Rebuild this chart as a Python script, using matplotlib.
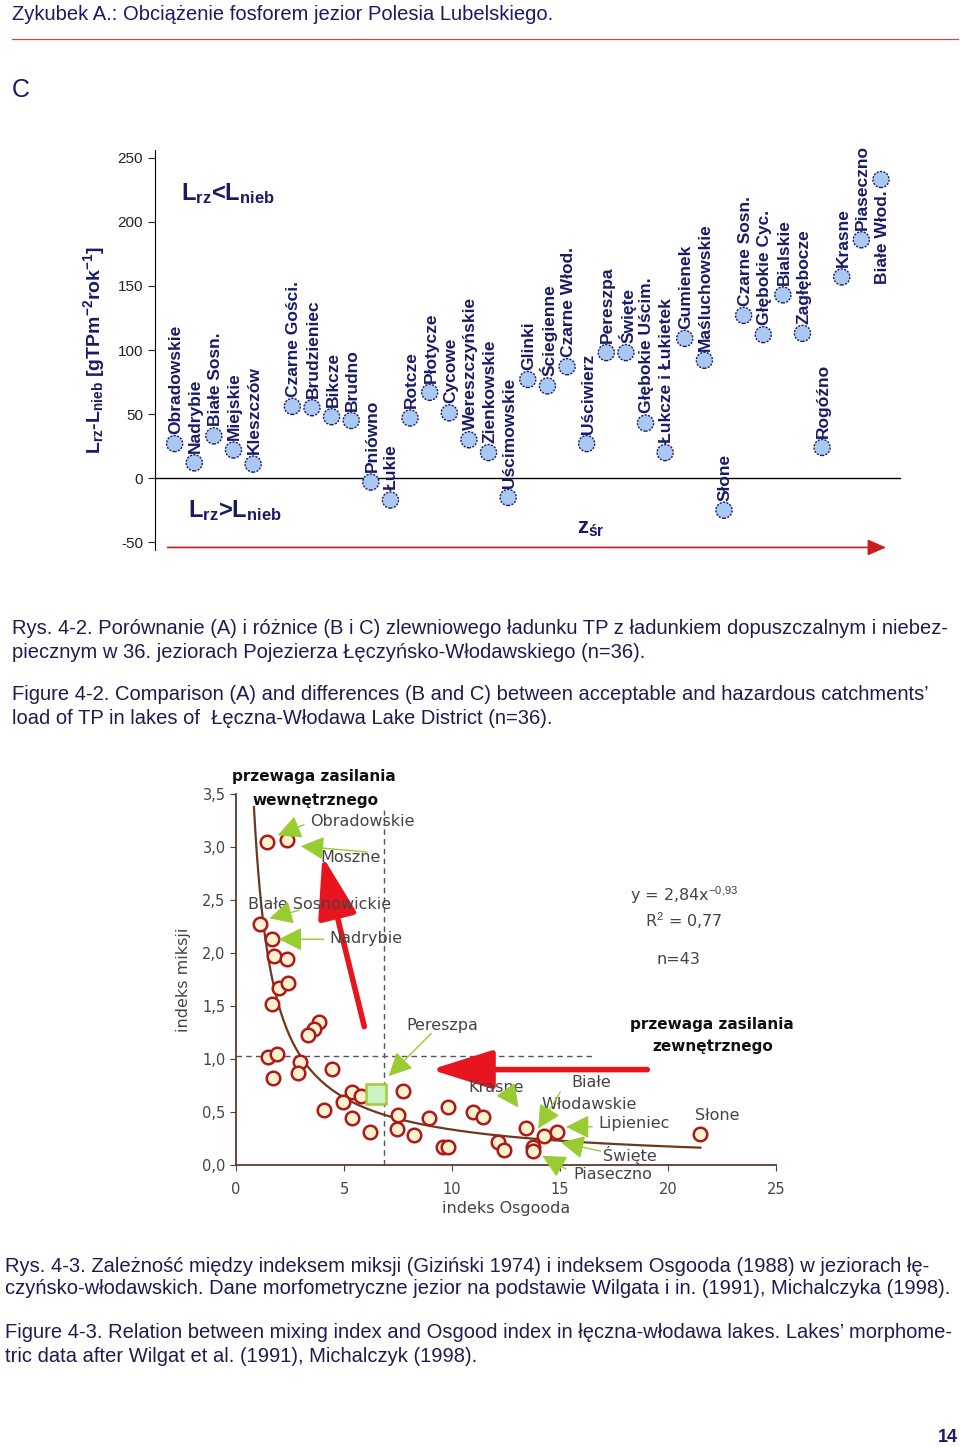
import numpy as np
import matplotlib
matplotlib.use('Agg')
import matplotlib.pyplot as plt
from matplotlib.lines import Line2D

plt.rcParams['font.family'] = ['Liberation Sans', 'DejaVu Sans']
plt.rcParams['mathtext.fontset'] = 'custom'
plt.rcParams['mathtext.rm'] = 'Liberation Sans'
plt.rcParams['mathtext.bf'] = 'Liberation Sans:bold'
plt.rcParams['mathtext.it'] = 'Liberation Sans:italic'
plt.rcParams['axes.unicode_minus'] = False

# --- top chart (C): L_rz - L_nieb per lake, lakes ordered by mean depth ---
lakes = ['Obradowskie', 'Nadrybie', 'Białe Sosn.', 'Miejskie', 'Kleszczów',
         'Czarne Gości.', 'Brudzieniec', 'Bikcze', 'Brudno', 'Pniówno', 'Łukie',
         'Rotcze', 'Płotycze', 'Cycowe', 'Wereszczyńskie', 'Zienkowskie',
         'Uścimowskie', 'Glinki', 'Ściegienne', 'Czarne Włod.', 'Uściwierz',
         'Pereszpa', 'Święte', 'Głębokie Uścim.', 'Łukcze i Łukietek', 'Gumienek',
         'Maśluchowskie', 'Słone', 'Czarne Sosn.', 'Głębokie Cyc.', 'Bialskie',
         'Zagłębocze', 'Rogóźno', 'Krasne', 'Piaseczno', 'Białe Włod.']
lake_pos = [1, 2, 3, 4, 5, 7, 8, 9, 10, 11, 12, 13, 14, 15, 16, 17, 18, 19, 20,
            21, 22, 23, 24, 25, 26, 27, 28, 29, 30, 31, 32, 33, 34, 35, 36, 37]
load_diff = [27, 12, 33, 22, 11, 56, 55, 48, 45, -3, -17, 47, 67, 51, 30, 20,
             -15, 77, 72, 87, 27, 98, 98, 43, 20, 109, 92, -25, 127, 112, 143,
             113, 24, 157, 186, 233]
top_yticks = [-50, 0, 50, 100, 150, 200, 250]

# --- bottom chart: mixing index vs Osgood index ---
osgood = [1.42, 2.38, 1.11, 1.68, 1.77, 2.38, 1.99, 2.42, 1.68, 3.86, 3.61, 3.33,
          1.47, 1.88, 1.73, 2.96, 2.86, 4.43, 5.36, 5.79, 4.97, 4.09, 5.39, 6.20,
          7.75, 7.52, 7.47, 8.24, 8.92, 9.80, 9.57, 9.83, 10.99, 11.42, 12.11,
          12.42, 13.43, 13.73, 13.73, 14.27, 14.85, 21.48]
miksji = [3.05, 3.07, 2.27, 2.13, 1.97, 1.94, 1.67, 1.72, 1.52, 1.35, 1.28, 1.23,
          1.02, 1.05, 0.82, 0.97, 0.87, 0.91, 0.69, 0.65, 0.59, 0.52, 0.44, 0.31,
          0.70, 0.47, 0.34, 0.28, 0.44, 0.55, 0.17, 0.17, 0.50, 0.45, 0.22,
          0.14, 0.35, 0.17, 0.13, 0.27, 0.31, 0.29]
pereszpa_xy = (6.48, 0.67)
fit_a, fit_b = 2.84, -0.93
fit_x_range = (0.83, 21.5)
bx_ticks = [0, 5, 10, 15, 20, 25]
by_ticks = [0.0, 0.5, 1.0, 1.5, 2.0, 2.5, 3.0, 3.5]
by_ticklabels = ['0,0', '0,5', '1,0', '1,5', '2,0', '2,5', '3,0', '3,5']

# label text, text anchor (left, middle), arrow start, arrow tip  (data coords)
callouts = [
    ('Obradowskie', (3.43, 3.24), (3.27, 3.22), (1.81, 3.10)),
    ('Moszne', (3.89, 2.90), (6.20, 2.95), (2.87, 3.01)),
    ('Białe Sosnowickie', (0.56, 2.46), (3.04, 2.41), (1.42, 2.32)),
    ('Nadrybie', (4.31, 2.14), (4.20, 2.13), (1.85, 2.13)),
    ('Pereszpa', (7.87, 1.32), (9.13, 1.26), (6.98, 0.82)),
    ('Krasne', (10.74, 0.73), (12.7, 0.65), (13.15, 0.52)),
    ('Lipieniec', (16.76, 0.39), (16.62, 0.36), (15.15, 0.36)),
    ('Święte', (16.99, 0.09), (17.0, 0.125), (14.92, 0.22)),
    ('Piaseczno', (15.60, -0.085), (15.38, -0.05), (14.07, 0.10)),
]

W, H = 960, 1447
fig = plt.figure(figsize=(W / 100, H / 100), dpi=100)


def px(x, y):
    return x / W, 1 - y / H


navy = '#1a1a66'
txt_col = '#1c1c50'
cap_size = 14.5

# page header
fig.text(*px(12, 15), 'Zykubek A.: Obciążenie fosforem jezior Polesia Lubelskiego.',
         color=navy, fontsize=cap_size, va='center', ha='left')
fig.add_artist(Line2D([12 / W, 958 / W], [1 - 39 / H, 1 - 39 / H], color='#c0504d', lw=0.9))
fig.text(*px(12, 90), 'C', color=navy, fontsize=18, va='center', ha='left')

# ---------------- top chart ----------------
ax = fig.add_axes([155 / W, 1 - 550 / H, 745.6 / W, 400 / H])
ax.set_xlim(0, 38)
ax.set_ylim(-56, 256)
for s in ['top', 'right', 'bottom']:
    ax.spines[s].set_visible(False)
ax.spines['left'].set_color('black')
ax.set_xticks([])
ax.set_yticks(top_yticks)
ax.tick_params(axis='y', direction='out', length=5, labelsize=11, colors='#222222')
ax.axhline(0, color='black', lw=1)

ax.scatter(lake_pos, load_diff, s=135, facecolor='#a9c9f2', edgecolor=navy,
           linewidths=1.0, linestyle=(0, (1.5, 1)), zorder=3)
for name, xp, yv in zip(lakes, lake_pos, load_diff):
    if name == 'Białe Włod.':
        ax.annotate(name, (xp, yv), xytext=(1, -8), textcoords='offset points',
                    rotation=90, ha='center', va='top', fontsize=12.5,
                    fontweight='bold', color=navy)
    else:
        ax.annotate(name, (xp, yv), xytext=(1, 7), textcoords='offset points',
                    rotation=90, ha='center', va='bottom', fontsize=12.5,
                    fontweight='bold', color=navy)

ax.set_ylabel(r'$\mathbf{L_{rz}}$-$\mathbf{L_{nieb}}$ [gTPm$^{\mathbf{-2}}$rok$^{\mathbf{-1}}$]',
              fontsize=14, fontweight='bold', color=navy, labelpad=8)
ax.text(1.3, 222, r'$\mathbf{L_{rz}}$<$\mathbf{L_{nieb}}$', fontsize=17,
        fontweight='bold', color=navy, va='center', ha='left')
ax.text(1.7, -25, r'$\mathbf{L_{rz}}$>$\mathbf{L_{nieb}}$', fontsize=17,
        fontweight='bold', color=navy, va='center', ha='left')
ax.text(21.5, -39, r'$\mathbf{z_{śr}}$', fontsize=16, fontweight='bold',
        color=navy, va='center', ha='left')
ax.annotate('', xy=(37.4, -54), xytext=(0.5, -54), annotation_clip=False,
            arrowprops=dict(arrowstyle='-|>,head_length=0.8,head_width=0.35',
                            color='#c81e1e', lw=1.2, mutation_scale=14))

# captions for fig 4-2
cap1 = ['Rys. 4-2. Porównanie (A) i różnice (B i C) zlewniowego ładunku TP z ładunkiem dopuszczalnym i niebez-',
        'piecznym w 36. jeziorach Pojezierza Łęczyńsko-Włodawskiego (n=36).']
cap2 = ['Figure 4-2. Comparison (A) and differences (B and C) between acceptable and hazardous catchments’',
        'load of TP in lakes of  Łęczna-Włodawa Lake District (n=36).']
for i, line in enumerate(cap1):
    fig.text(*px(12, 629 + 23 * i), line, color=txt_col, fontsize=cap_size, va='center')
for i, line in enumerate(cap2):
    fig.text(*px(12, 695 + 23 * i), line, color=txt_col, fontsize=cap_size, va='center')

# ---------------- bottom chart ----------------
bfont = 'DejaVu Sans'
gray = '#444444'
axc = '#5a3c32'
bx = fig.add_axes([236 / W, 1 - 1165 / H, 540 / W, 371 / H])
bx.set_xlim(0, 25)
bx.set_ylim(0, 3.5)
for s in ['top', 'right']:
    bx.spines[s].set_visible(False)
for s in ['left', 'bottom']:
    bx.spines[s].set_color(axc)
    bx.spines[s].set_linewidth(1.3)
bx.set_xticks(bx_ticks)
bx.set_yticks(by_ticks)
bx.set_yticklabels(by_ticklabels)
bx.tick_params(direction='out', length=4, colors=axc, labelcolor=gray, labelsize=10.5)
bx.tick_params(axis='x', pad=8)
for lab in bx.get_xticklabels() + bx.get_yticklabels():
    lab.set_family(bfont)
bx.set_xlabel('indeks Osgooda', family=bfont, fontsize=11.5, color=gray, labelpad=3)
bx.set_ylabel('indeks miksji', family=bfont, fontsize=11.5, color=gray, labelpad=8)

# reference lines
bx.plot([6.85, 6.85], [0, 3.35], color='#555555', lw=1, ls=(0, (4, 3)), zorder=1)
bx.plot([0, 16.5], [1.03, 1.03], color='#555555', lw=1, ls=(0, (4, 3)), zorder=1)

# power-law fit
fx = np.linspace(fit_x_range[0], fit_x_range[1], 300)
bx.plot(fx, fit_a * fx ** fit_b, color='#6b3a1e', lw=1.6, zorder=2, clip_on=False)

bx.scatter(osgood, miksji, s=95, facecolor='#fff3cf', edgecolor='#b01818',
           linewidths=1.8, zorder=4, clip_on=False)
bx.scatter([pereszpa_xy[0]], [pereszpa_xy[1]], marker='s', s=190,
           facecolor='#c9f3c0', edgecolor='#a8c83c', linewidths=1.8, zorder=4)

# red arrows
red_style = dict(arrowstyle='-|>,head_length=1.9,head_width=0.6',
                 color='#e8141e', lw=4, mutation_scale=20)
bx.annotate('', xy=(3.97, 2.94), xytext=(5.97, 1.28), arrowprops=red_style)
bx.annotate('', xy=(8.9, 0.90), xytext=(19.17, 0.90), arrowprops=red_style)

# green callouts
green = '#99cc33'
g_style = dict(arrowstyle='-|>,head_length=0.9,head_width=0.45',
               color=green, lw=1.0, mutation_scale=16)
for label, tpos, a0, a1 in callouts:
    bx.text(tpos[0], tpos[1], label, family=bfont, fontsize=11.5, color=gray,
            ha='left', va='center', zorder=5, clip_on=False)
    bx.annotate('', xy=a1, xytext=a0, annotation_clip=False, arrowprops=g_style, zorder=5)
bx.text(15.51, 0.78, 'Białe', family=bfont, fontsize=11.5, color=gray, va='center')
bx.text(14.12, 0.57, 'Włodawskie', family=bfont, fontsize=11.5, color=gray, va='center')
bx.annotate('', xy=(13.92, 0.32), xytext=(15.08, 0.71), arrowprops=g_style)
bx.text(21.25, 0.47, 'Słone', family=bfont, fontsize=11.5, color=gray, va='center')

# region titles and fit text
title_kw = dict(family=bfont, fontweight='bold', fontsize=11, color='#111111', va='center')
fig.text(*px(232, 777), 'przewaga zasilania', **title_kw)
fig.text(*px(252, 800), 'wewnętrznego', **title_kw)
fig.text(*px(630, 1024), 'przewaga zasilania', **title_kw)
fig.text(*px(652, 1047), 'zewnętrznego', **title_kw)
fig.text(*px(630, 895), r'y = 2,84x$^{-0{,}93}$', family=bfont, fontsize=11.5,
         color=gray, va='center')
fig.text(*px(645, 921), r'R$^{2}$ = 0,77', family=bfont, fontsize=11.5,
         color=gray, va='center')
fig.text(*px(657, 960), 'n=43', family=bfont, fontsize=11.5, color=gray, va='center')

# captions for fig 4-3
cap3 = ['Rys. 4-3. Zależność między indeksem miksji (Giziński 1974) i indeksem Osgooda (1988) w jeziorach łę-',
        'czyńsko-włodawskich. Dane morfometryczne jezior na podstawie Wilgata i in. (1991), Michalczyka (1998).']
cap4 = ['Figure 4-3. Relation between mixing index and Osgood index in łęczna-włodawa lakes. Lakes’ morphome-',
        'tric data after Wilgat et al. (1991), Michalczyk (1998).']
for i, line in enumerate(cap3):
    fig.text(*px(5, 1266 + 23 * i), line, color=txt_col, fontsize=cap_size, va='center')
for i, line in enumerate(cap4):
    fig.text(*px(5, 1333 + 23 * i), line, color=txt_col, fontsize=cap_size, va='center')

fig.text(*px(958, 1437), '14', color=navy, fontsize=13, fontweight='bold',
         ha='right', va='center')

fig.savefig('out.png', dpi=100)
